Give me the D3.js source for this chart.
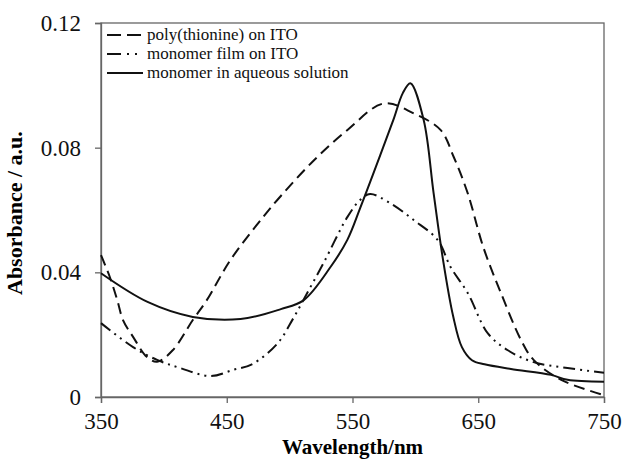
<!DOCTYPE html>
<html>
<head>
<meta charset="utf-8">
<script src="https://cdn.jsdelivr.net/npm/d3@7"></script>
<style>
  body { margin: 0; background: #fff; }
</style>
</head>
<body>
<div id="chart"></div>
<script>
// data
var polyWl   = [350, 357, 363, 367.5, 375.5, 386.6, 394.6, 407, 423, 434, 453, 479, 493, 519, 546, 575, 598.6, 620, 630.5, 641.6, 654, 668, 684, 694, 716, 750];
var polyAbs  = [0.0455, 0.0385, 0.031, 0.0247, 0.0193, 0.0128, 0.0113, 0.015, 0.0247, 0.031, 0.044, 0.0578, 0.0645, 0.0758, 0.0857, 0.0942, 0.0910, 0.0857, 0.077, 0.0654, 0.0481, 0.0334, 0.0183, 0.0119, 0.0055, 0.0006];

var filmWl   = [350, 375.5, 394.6, 413, 437, 455, 470, 490, 503, 514, 527, 546, 556, 564, 580, 598.6, 617.7, 628, 641.6, 657.5, 673.5, 694, 721, 750];
var filmAbs  = [0.0237, 0.016, 0.0119, 0.0093, 0.0067, 0.0087, 0.0105, 0.017, 0.0253, 0.0334, 0.043, 0.0578, 0.0632, 0.0651, 0.0622, 0.0568, 0.0504, 0.0417, 0.0334, 0.0205, 0.015, 0.0112, 0.0093, 0.0078];

var solWl    = [350, 387, 423, 461, 493, 511, 532.5, 546, 556, 572, 583, 590, 596, 606.6, 614.5, 622, 630, 637, 645, 655, 676, 708, 721, 750];
var solAbs   = [0.0397, 0.0305, 0.0257, 0.025, 0.0282, 0.031, 0.0417, 0.0505, 0.0605, 0.0775, 0.0895, 0.0975, 0.1007, 0.0889, 0.0654, 0.044, 0.026, 0.016, 0.0118, 0.0105, 0.009, 0.0071, 0.0055, 0.0049];

var seriesNames = ["poly(thionine) on ITO", "monomer film on ITO", "monomer in aqueous solution"];
var xTicks = [350, 450, 550, 650, 750];
var yTicks = [0, 0.04, 0.08, 0.12];

var serif = "'Liberation Serif', 'Times New Roman', Times, 'DejaVu Serif', serif";

var margin = {top: 23, right: 20, bottom: 66, left: 101},
    width = 624 - margin.left - margin.right,
    height = 463 - margin.top - margin.bottom;

var svg = d3.select("#chart")
  .append("svg")
  .attr("width", 624)
  .attr("height", 463)
  .append("g")
  .attr("transform", "translate(" + margin.left + "," + margin.top + ")");

var x = d3.scaleLinear().domain([350, 750]).range([0, width]);
var y = d3.scaleLinear().domain([0, 0.12]).range([height, 0]);

// plot frame
svg.append("rect")
  .attr("width", width)
  .attr("height", height)
  .attr("fill", "none")
  .attr("stroke", "#666")
  .attr("stroke-width", 1.3);

// x axis
var xAxis = svg.append("g")
  .attr("transform", "translate(0," + height + ")")
  .call(d3.axisBottom(x).tickValues(xTicks).tickSize(6).tickPadding(10).tickFormat(d3.format("d")));

// y axis
var yAxis = svg.append("g")
  .call(d3.axisLeft(y).tickValues(yTicks).tickSize(6).tickPadding(14)
    .tickFormat(d => d === 0 ? "0" : d3.format(".2f")(d)));

[xAxis, yAxis].forEach(a => {
  a.attr("font-family", serif);
  a.selectAll("text").style("font-family", serif).style("font-size", "23px").attr("fill", "#111");
  a.select(".domain").attr("stroke", "#666").attr("stroke-width", 1.3);
  a.selectAll(".tick line").attr("stroke", "#666").attr("stroke-width", 1.3);
});

// axis labels
svg.append("text")
  .attr("text-anchor", "middle")
  .attr("x", x(550))
  .attr("y", height + 57)
  .style("font-family", serif)
  .style("font-size", "21px")
  .style("font-weight", "bold")
  .text("Wavelength/nm");

svg.append("text")
  .attr("text-anchor", "middle")
  .attr("transform", "rotate(-90)")
  .attr("x", -(y(0.059)))
  .attr("y", -79)
  .style("font-family", serif)
  .style("font-size", "22px")
  .style("font-weight", "bold")
  .text("Absorbance / a.u.");

// curves
var line = d3.line()
  .x(d => x(d[0]))
  .y(d => y(d[1]))
  .curve(d3.curveCatmullRom.alpha(0.5));

var dashes = ["11,6", "12,5,2,5,2,5", null];
var series = [
  d3.zip(polyWl, polyAbs),
  d3.zip(filmWl, filmAbs),
  d3.zip(solWl, solAbs)
];

series.forEach((s, i) => {
  svg.append("path")
    .datum(s)
    .attr("d", line)
    .attr("fill", "none")
    .attr("stroke", "#111")
    .attr("stroke-width", 2)
    .attr("stroke-dasharray", dashes[i]);
});

// legend
var legend = svg.append("g").attr("transform", "translate(6,12)");
seriesNames.forEach((name, i) => {
  var row = legend.append("g").attr("transform", "translate(0," + (i * 19) + ")");
  row.append("line")
    .attr("x1", 0).attr("x2", 36)
    .attr("y1", 0).attr("y2", 0)
    .attr("stroke", "#111")
    .attr("stroke-width", 2)
    .attr("stroke-dasharray", i === 0 ? "14,6" : i === 1 ? "14,6,2,6,2" : null);
  row.append("text")
    .attr("x", 40)
    .attr("y", 5)
    .style("font-family", serif)
    .style("font-size", "17px")
    .attr("fill", "#111")
    .text(name);
});
</script>
</body>
</html>
